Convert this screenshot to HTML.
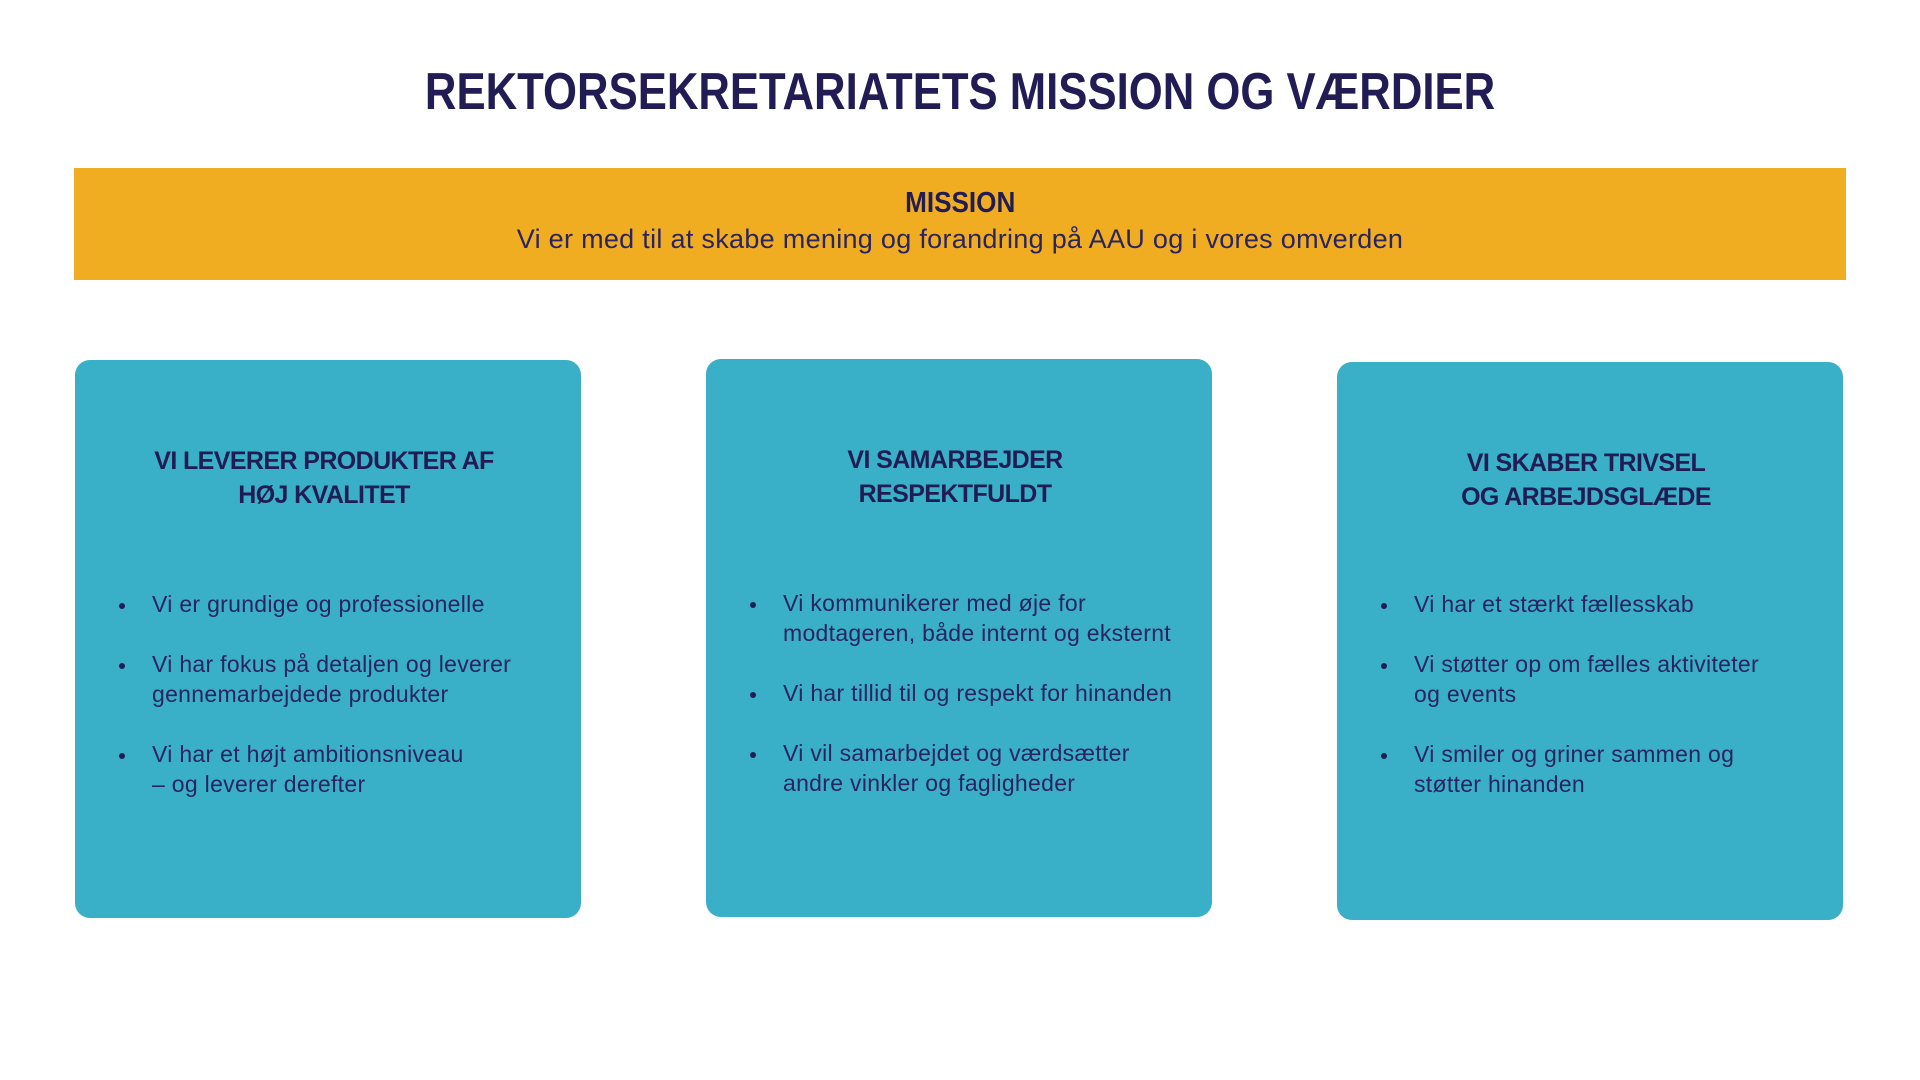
<!DOCTYPE html>
<html><head><meta charset="utf-8"><style>
*{margin:0;padding:0;box-sizing:border-box}
body{width:1920px;height:1080px;background:#fff;position:relative;overflow:hidden;font-family:"Liberation Sans",sans-serif;color:#221C55}
.title{position:absolute;left:0;width:1920px;top:62px;text-align:center;font-weight:bold;font-size:52px;line-height:60px}
.title span{display:inline-block;transform:scaleX(0.84);white-space:nowrap}
.bar{position:absolute;left:74px;top:168px;width:1772px;height:112px;background:#F0AD22;text-align:center}
.bar .h{font-weight:bold;font-size:29px;margin-top:18px;line-height:34px}
.bar .h span{display:inline-block;transform:scaleX(0.9)}
.bar .s{font-size:27px;line-height:34px;margin-top:2px;letter-spacing:0.3px;color:#2a2460}
.box{position:absolute;width:506px;height:558px;background:#3AAFC8;border-radius:15px}
.box h2{position:absolute;top:84px;left:-4px;width:100%;text-align:center;font-size:25px;line-height:34px;font-weight:bold;letter-spacing:-0.6px}
.box ul{position:absolute;left:44px;top:229px;list-style:none;width:470px}
.box li{position:relative;padding-left:33px;font-size:23px;line-height:30px;margin-bottom:30px;letter-spacing:0.3px;white-space:nowrap;color:#2a2460}
.box li:before{content:"";position:absolute;left:0;top:14px;width:6px;height:6px;border-radius:50%;background:#221C55}
</style></head><body>
<div class="title"><span>REKTORSEKRETARIATETS MISSION OG VÆRDIER</span></div>
<div class="bar"><div class="h"><span>MISSION</span></div><div class="s">Vi er med til at skabe mening og forandring på AAU og i vores omverden</div></div>
<div class="box" style="left:75px;top:360px"><h2>VI LEVERER PRODUKTER AF<br>HØJ KVALITET</h2><ul>
<li>Vi er grundige og professionelle</li>
<li>Vi har fokus på detaljen og leverer<br>gennemarbejdede produkter</li>
<li>Vi har et højt ambitionsniveau<br>– og leverer derefter</li></ul></div>
<div class="box" style="left:706px;top:359px"><h2>VI SAMARBEJDER<br>RESPEKTFULDT</h2><ul>
<li>Vi kommunikerer med øje for<br>modtageren, både internt og eksternt</li>
<li>Vi har tillid til og respekt for hinanden</li>
<li>Vi vil samarbejdet og værdsætter<br>andre vinkler og fagligheder</li></ul></div>
<div class="box" style="left:1337px;top:362px"><h2>VI SKABER TRIVSEL<br>OG ARBEJDSGLÆDE</h2><ul style="top:227px">
<li>Vi har et stærkt fællesskab</li>
<li>Vi støtter op om fælles aktiviteter<br>og events</li>
<li>Vi smiler og griner sammen og<br>støtter hinanden</li></ul></div>
</body></html>
